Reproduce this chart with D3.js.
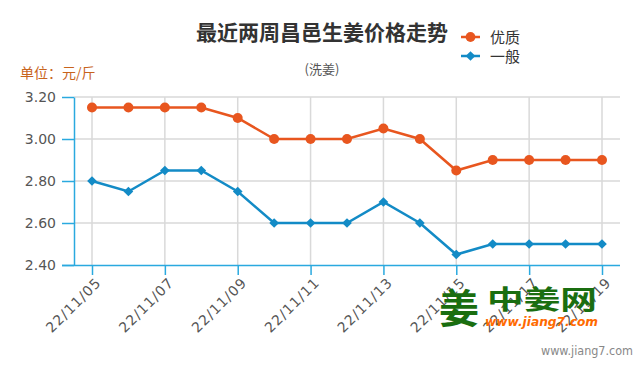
<!DOCTYPE html>
<html>
<head>
<meta charset="utf-8">
<script src="https://cdn.jsdelivr.net/npm/d3@7"></script>
<style>
  body { margin: 0; background: #fff; }
  svg { display: block; font-family: "Noto Sans CJK SC", "DejaVu Sans", sans-serif; }
</style>
</head>
<body>
<svg id="chart" width="640" height="370"></svg>
<script>
// data
const dates = ["22/11/05","22/11/06","22/11/07","22/11/08","22/11/09","22/11/10","22/11/11","22/11/12",
               "22/11/13","22/11/14","22/11/15","22/11/16","22/11/17","22/11/18","22/11/19"];
const youzhi = [3.15,3.15,3.15,3.15,3.10,3.00,3.00,3.00,3.05,3.00,2.85,2.90,2.90,2.90,2.90];
const yiban  = [2.80,2.75,2.85,2.85,2.75,2.60,2.60,2.60,2.70,2.60,2.45,2.50,2.50,2.50,2.50];
const yTicks = [2.40,2.60,2.80,3.00,3.20];

const svg = d3.select("#chart");
const axisColor = "#2aa9df", gridColor = "#d9d9d9";
const orange = "#e8561f", blue = "#138bc6";

let x = d3.scalePoint().domain(dates).range([92, 602]);
let y = d3.scaleLinear().domain([2.4, 3.2]).range([265, 97]);
const left = 74, right = 620;

// grid
let grid = svg.append("g");
grid.selectAll("line.h").data(yTicks.slice(1)).join("line")
    .attr("x1", left).attr("x2", right)
    .attr("y1", d => y(d)).attr("y2", d => y(d))
    .attr("stroke", gridColor).attr("stroke-width", 1.5);
let shown = dates.filter((d, i) => i % 2 == 0);
grid.selectAll("line.v").data(shown).join("line")
    .attr("x1", d => x(d)).attr("x2", d => x(d))
    .attr("y1", y(3.2)).attr("y2", y(2.4))
    .attr("stroke", gridColor).attr("stroke-width", 1.5);

// y axis
let yAxis = svg.append("g").attr("transform", `translate(${left},0)`)
    .call(d3.axisLeft(y).tickValues(yTicks).tickFormat(d3.format(".2f")).tickSize(12).tickSizeOuter(0));
yAxis.select(".domain").attr("stroke", axisColor).attr("stroke-width", 1.5);
yAxis.selectAll(".tick line").attr("stroke", axisColor).attr("stroke-width", 1.5);
yAxis.selectAll(".tick text").attr("x", -18).attr("fill", "#555")
    .style("font-family", "'DejaVu Sans', sans-serif").style("font-size", "14px");

// x axis
let xAxis = svg.append("g").attr("transform", `translate(0,${y(2.4)})`)
    .call(d3.axisBottom(x).tickValues(shown).tickSize(10).tickSizeOuter(0));
xAxis.select(".domain").attr("d", `M62,0.5H${right}`).attr("stroke", axisColor).attr("stroke-width", 1.5);
xAxis.selectAll(".tick line").attr("stroke", axisColor).attr("stroke-width", 1.5);
xAxis.selectAll(".tick text")
    .attr("fill", "#555")
    .style("font-family", "'DejaVu Sans', sans-serif").style("font-size", "14px")
    .style("letter-spacing", "1px")
    .attr("text-anchor", "end")
    .attr("transform", "translate(6,15) rotate(-45)")
    .attr("dy", "0.35em").attr("y", 0);

// lines
let line = d3.line().x((d, i) => x(dates[i])).y(d => y(d));
svg.append("path").datum(youzhi).attr("d", line)
   .attr("fill", "none").attr("stroke", orange).attr("stroke-width", 2.5);
svg.append("path").datum(yiban).attr("d", line)
   .attr("fill", "none").attr("stroke", blue).attr("stroke-width", 2.5);

svg.append("g").selectAll("circle").data(youzhi).join("circle")
   .attr("cx", (d, i) => x(dates[i])).attr("cy", d => y(d)).attr("r", 5)
   .attr("fill", orange);
let diamond = d3.symbol().type(d3.symbolDiamond2).size(60);
svg.append("g").selectAll("path").data(yiban).join("path")
   .attr("transform", (d, i) => `translate(${x(dates[i])},${y(d)})`)
   .attr("d", diamond).attr("fill", blue);

// titles
svg.append("text").attr("x", 322).attr("y", 40).attr("text-anchor", "middle")
   .attr("font-size", 21).attr("font-weight", "bold").attr("fill", "#333")
   .text("最近两周昌邑生姜价格走势");
svg.append("text").attr("x", 322).attr("y", 74).attr("text-anchor", "middle")
   .attr("font-size", 13).attr("fill", "#555").text("(洗姜)");
svg.append("text").attr("x", 20).attr("y", 78)
   .attr("font-size", 14).attr("fill", "#c8641c").text("单位：元/斤");

// legend
const legend = [["优质", orange, "circle"], ["一般", blue, "diamond"]];
let lg = svg.append("g").selectAll("g").data(legend).join("g")
   .attr("transform", (d, i) => `translate(461,${37 + i * 19})`);
lg.append("line").attr("x1", 0).attr("x2", 19).attr("stroke", d => d[1]).attr("stroke-width", 2.5);
lg.append("path").attr("transform", "translate(9.5,0)")
   .attr("d", d => d[2] == "circle" ? d3.symbol().type(d3.symbolCircle).size(75)() : d3.symbol().type(d3.symbolDiamond2).size(60)())
   .attr("fill", d => d[1]);
lg.append("text").attr("x", 29).attr("y", 5.5).attr("font-size", 15).attr("fill", "#333").text(d => d[0]);

// watermark
svg.append("text").attr("x", 439).attr("y", 323).attr("font-size", 40).attr("font-weight", "bold")
   .attr("fill", "#1a6e10").text("姜");
svg.append("text").attr("x", 487).attr("y", 309).attr("font-size", 26).attr("font-weight", "bold")
   .attr("textLength", 110).attr("lengthAdjust", "spacingAndGlyphs")
   .attr("fill", "#1a6e10").text("中姜网");
svg.append("text").attr("x", 485).attr("y", 326).attr("font-size", 12).attr("font-weight", "bold")
   .attr("font-style", "italic").attr("fill", "#ff6a00")
   .attr("textLength", 113).attr("lengthAdjust", "spacingAndGlyphs")
   .style("font-family", "'DejaVu Sans', sans-serif").text("www.jiang7.com");
svg.append("text").attr("x", 541).attr("y", 355)
   .attr("font-size", 12).attr("fill", "#888")
   .attr("textLength", 92).attr("lengthAdjust", "spacingAndGlyphs")
   .style("font-family", "'DejaVu Sans', sans-serif").text("www.jiang7.com");
</script>
</body>
</html>
